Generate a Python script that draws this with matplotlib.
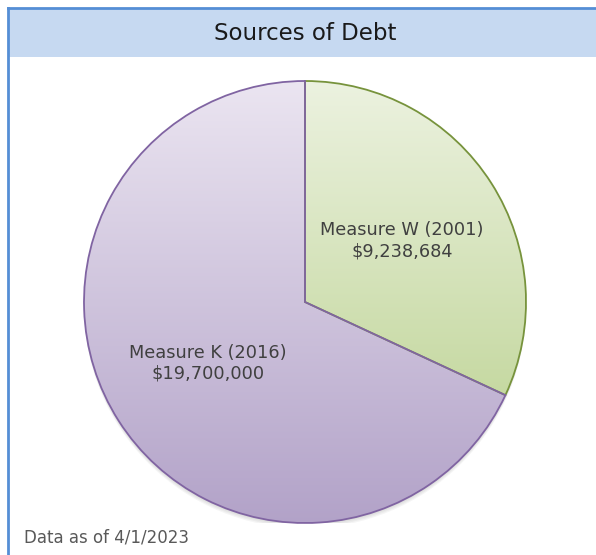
import matplotlib.pyplot as plt
import numpy as np
from matplotlib.colors import LinearSegmentedColormap
from matplotlib.patches import Rectangle, Circle
from matplotlib.lines import Line2D

title = 'Sources of Debt'
sources = ['Measure W (2001)', 'Measure K (2016)']
amounts = [9238684, 19700000]
footnote = 'Data as of 4/1/2023'

# top / bottom of the vertical gradient and the outline for each slice
grad_top = ['#ecf2e0', '#ebe5f1']
grad_bottom = ['#c6d9a2', '#b2a2c8']
edges = ['#77933c', '#8064a2']

W, H = 596, 555


def main():
    fig = plt.figure(figsize=(W / 100, H / 100), dpi=100)
    fig.patch.set_facecolor('white')

    # title band and frame
    fig.add_artist(Rectangle((8 / W, 1 - 57 / H), 1, 49 / H, transform=fig.transFigure,
                             facecolor='#c6d9f1', edgecolor='none'))
    fig.add_artist(Line2D([8 / W, 1], [1 - 8 / H, 1 - 8 / H], transform=fig.transFigure,
                          color='#558ed5', lw=2))
    fig.add_artist(Line2D([8 / W, 8 / W], [0, 1 - 8 / H], transform=fig.transFigure,
                          color='#558ed5', lw=2))
    fig.text(305 / W, 1 - 34 / H, title, ha='center', va='center',
             fontsize=16.5, color='#1a1a1a')
    fig.text(24 / W, 1 - 537 / H, footnote, ha='left', va='center',
             fontsize=12, color='#595959')

    # pie area
    ax = fig.add_axes([84 / W, 1 - 523 / H, 442 / W, 442 / H])
    ax.set_xlim(-1, 1)
    ax.set_ylim(-1, 1)
    ax.set_aspect('equal')
    ax.axis('off')

    # soft shadow under the pie
    for i in range(4):
        ax.add_patch(Circle((0, -0.006 - 0.006 * i), 1.0, facecolor='#404040',
                            edgecolor='none', alpha=0.05, zorder=0))

    wedges, _ = ax.pie(amounts, startangle=90, counterclock=False, radius=1.0,
                       wedgeprops=dict(linewidth=1.3, facecolor='none'))

    ramp = np.linspace(0, 1, 256).reshape(-1, 1)
    for w, top, bot, ec, name, amt in zip(wedges, grad_top, grad_bottom, edges, sources, amounts):
        w.set_edgecolor(ec)
        w.set_zorder(3)
        # gradient runs over the slice's own height
        verts = w.get_path().vertices
        y0, y1 = verts[:, 1].min(), verts[:, 1].max()
        cmap = LinearSegmentedColormap.from_list('g', [top, bot])
        img = ax.imshow(ramp, cmap=cmap, extent=[-1, 1, y0, y1], origin='upper',
                        aspect='auto', zorder=2, interpolation='bilinear')
        img.set_clip_path(w)
        mid = np.deg2rad((w.theta1 + w.theta2) / 2)
        ax.text(0.52 * np.cos(mid), 0.515 * np.sin(mid),
                f'{name}\n${amt:,.0f}', ha='center', va='center',
                fontsize=12.8, color='#404040', linespacing=1.2, zorder=4)

    ax.set_xlim(-1, 1)
    ax.set_ylim(-1, 1)
    fig.savefig('out.png', dpi=100)


if __name__ == '__main__':
    main()
